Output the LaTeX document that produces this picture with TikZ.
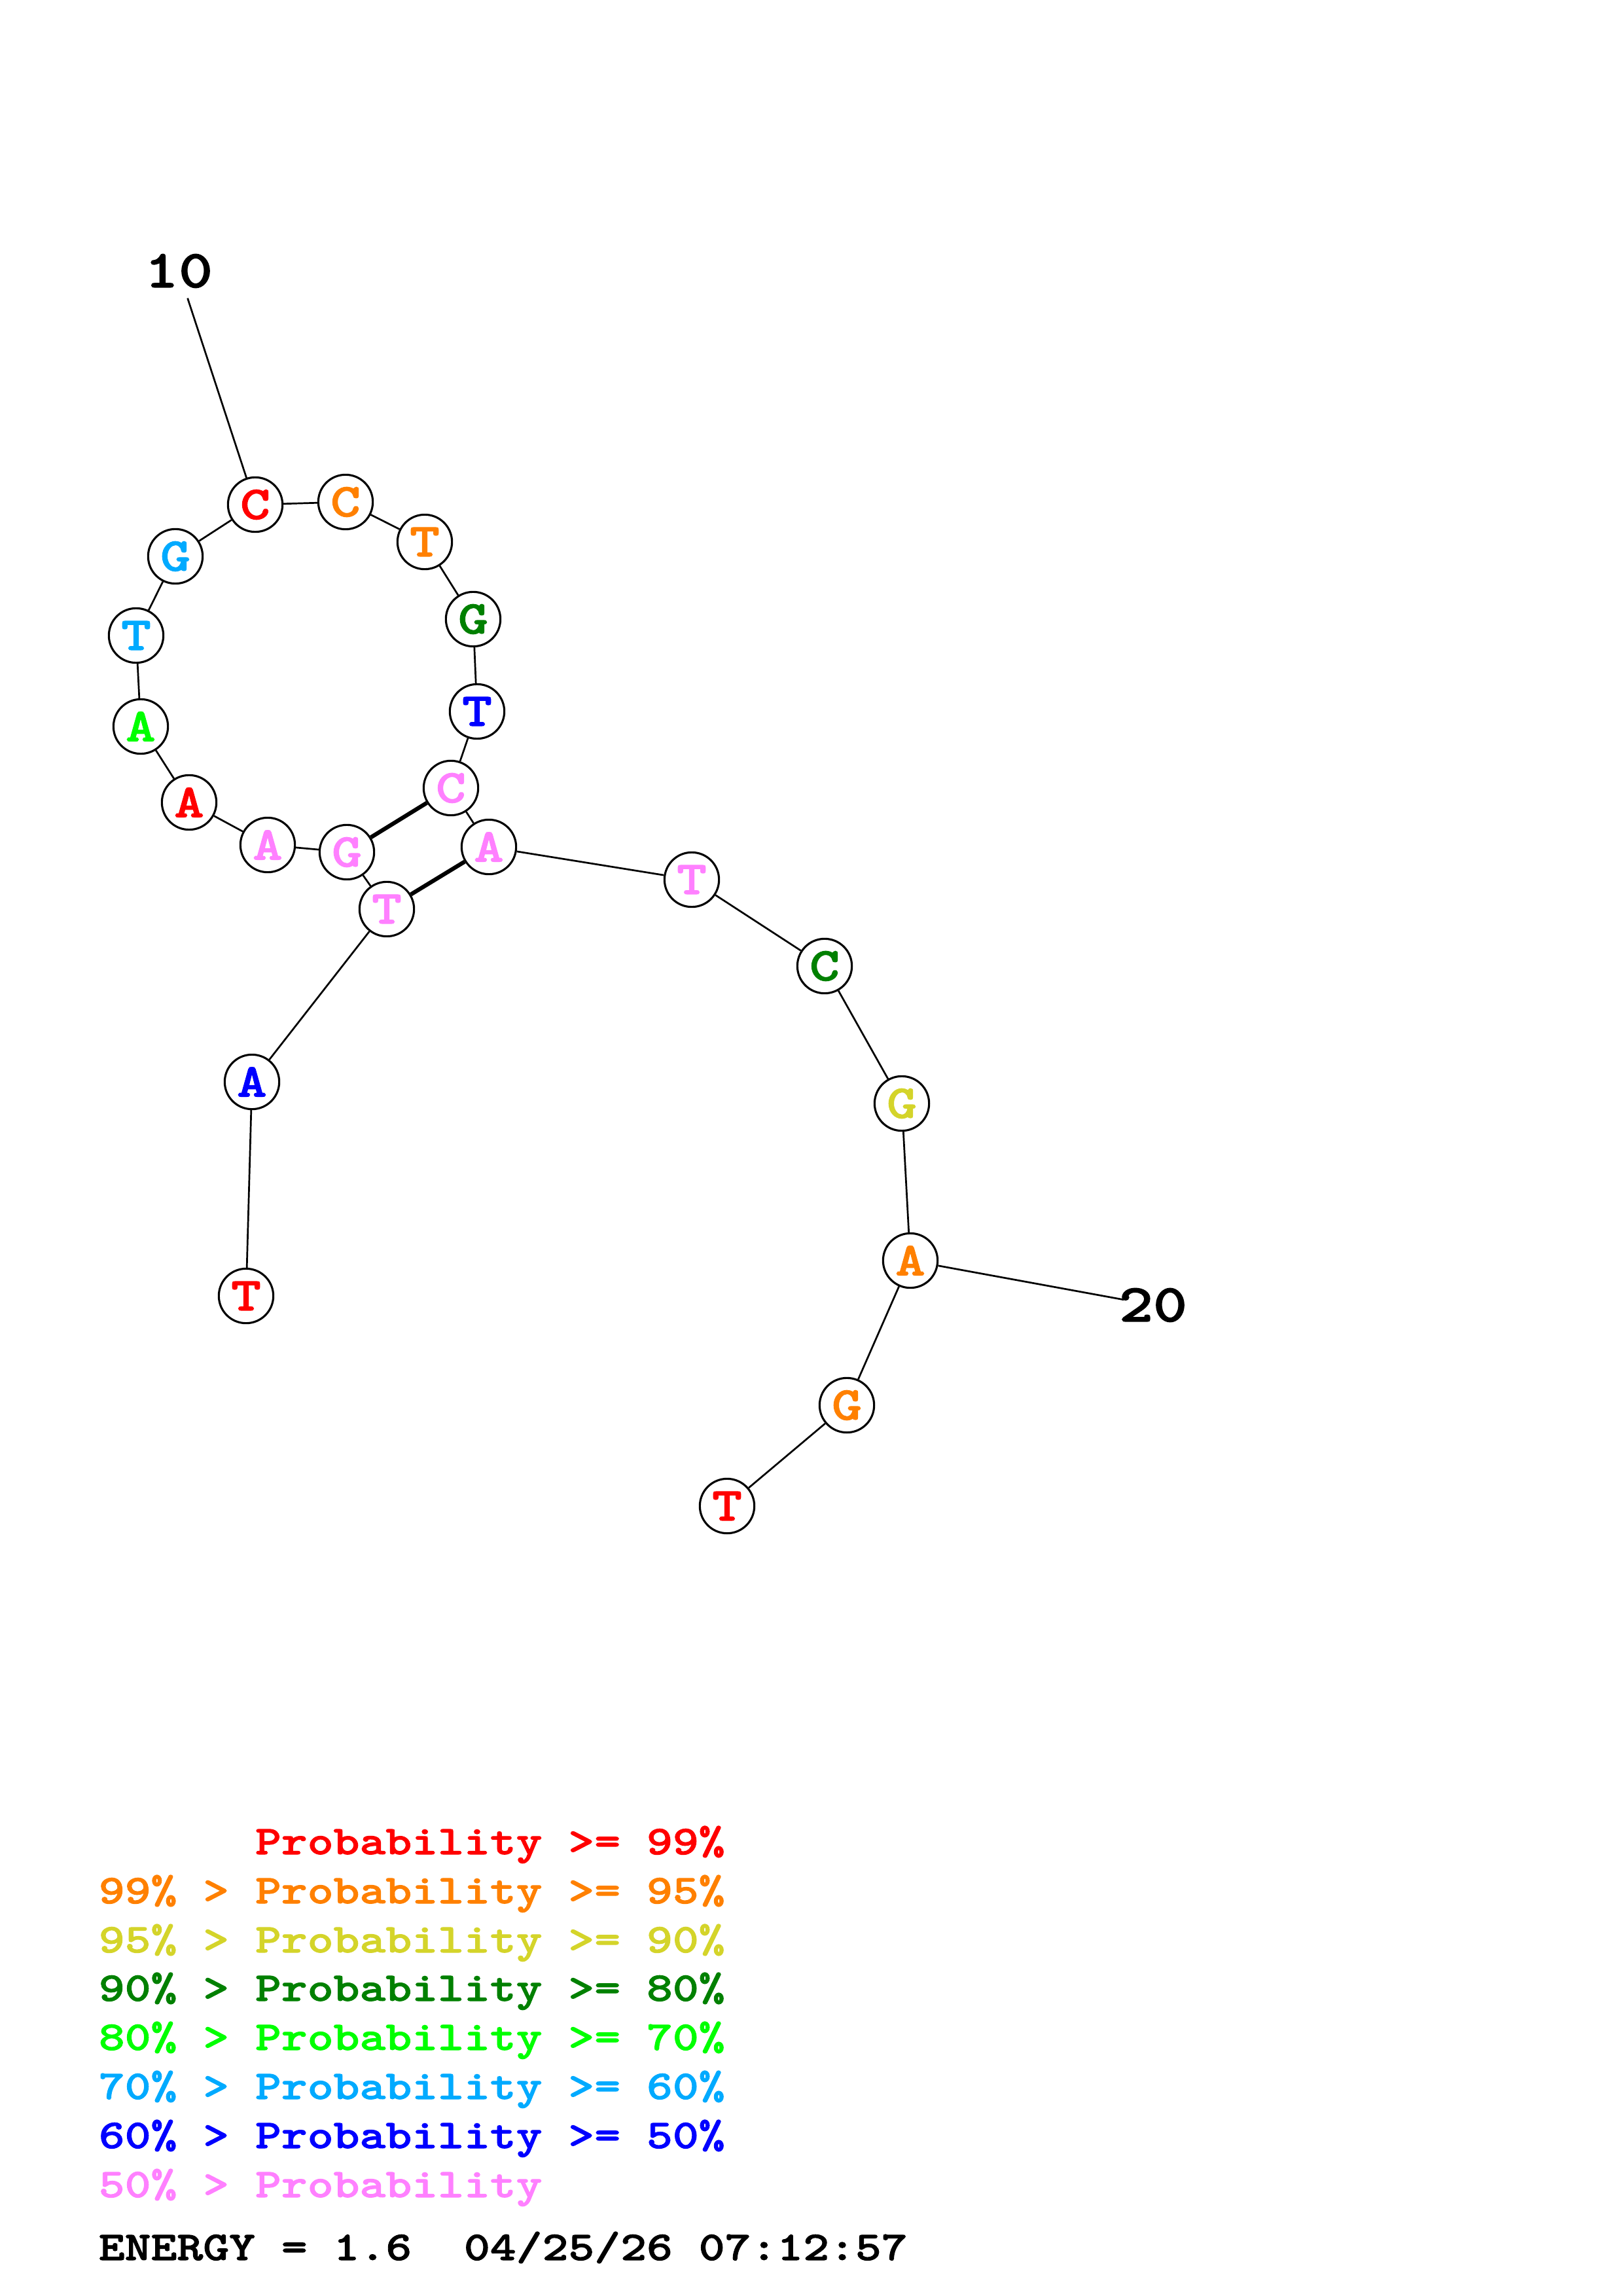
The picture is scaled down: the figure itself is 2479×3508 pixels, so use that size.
\documentclass[tikz,border=0pt]{standalone}
\usepackage{fontspec}
\newfontfamily\courb{lmmonolt10-bold}[Extension=.otf,FakeStretch=1.215,FakeBold=1.5]
\definecolor{pred}{RGB}{255,0,0}
\definecolor{porange}{RGB}{255,128,0}
\definecolor{pyellow}{RGB}{212,212,42}
\definecolor{pdkgreen}{RGB}{0,128,0}
\definecolor{pgreen}{RGB}{0,255,0}
\definecolor{pltblue}{RGB}{0,170,255}
\definecolor{pblue}{RGB}{0,0,255}
\definecolor{ppink}{RGB}{255,128,255}
\begin{document}
\begin{tikzpicture}[x=0.24pt,y=-0.24pt]
  \tikzstyle{base}=[circle,draw,fill=white,line width=0.75pt,minimum size=20pt,inner sep=0pt,
    font=\fontsize{17.3}{20}\courb]
  \tikzstyle{numlabel}=[inner sep=0pt,font=\fontsize{19.6}{22}\courb]
  \tikzstyle{legend}=[anchor=base west,inner sep=0pt,font=\fontsize{15}{18}\courb]
  \tikzstyle{bond}=[line width=0.65pt]
  \tikzstyle{pair}=[line width=1.5pt]
  \useasboundingbox (0,0) rectangle (2479,3508);
  % bases
  \node[base,text=pred]     (n1)  at (376,1980) {T};
  \node[base,text=pblue]    (n2)  at (385,1653) {A};
  \node[base,text=ppink]    (n3)  at (591,1389) {T};
  \node[base,text=ppink]    (n4)  at (530,1302) {G};
  \node[base,text=ppink]    (n5)  at (409,1291) {A};
  \node[base,text=pred]     (n6)  at (289,1226) {A};
  \node[base,text=pgreen]   (n7)  at (215,1110) {A};
  \node[base,text=pltblue]  (n8)  at (208,971)  {T};
  \node[base,text=pltblue]  (n9)  at (268,850)  {G};
  \node[base,text=pred]     (n10) at (390,771)  {C};
  \node[base,text=porange]  (n11) at (528,767)  {C};
  \node[base,text=porange]  (n12) at (649,828)  {T};
  \node[base,text=pdkgreen] (n13) at (723,946)  {G};
  \node[base,text=pblue]    (n14) at (729,1087) {T};
  \node[base,text=ppink]    (n15) at (689,1204) {C};
  \node[base,text=ppink]    (n16) at (747,1294) {A};
  \node[base,text=ppink]    (n17) at (1057,1344) {T};
  \node[base,text=pdkgreen] (n18) at (1260,1476) {C};
  \node[base,text=pyellow]  (n19) at (1378,1686) {G};
  \node[base,text=porange]  (n20) at (1391,1926) {A};
  \node[base,text=porange]  (n21) at (1294,2147) {G};
  \node[base,text=pred]     (n22) at (1111,2301) {T};
  % numbering
  \node[numlabel] (l10) at (273,414)  {10};
  \node[numlabel] (l20) at (1762,1994) {20};
  % backbone
  \draw[bond] (n1) -- (n2) -- (n3) -- (n4) -- (n5) -- (n6) -- (n7) -- (n8) -- (n9) -- (n10)
    -- (n11) -- (n12) -- (n13) -- (n14) -- (n15) -- (n16) -- (n17) -- (n18) -- (n19) -- (n20)
    -- (n21) -- (n22);
  \draw[bond,shorten >=10.5pt] (n10) -- (l10.center);
  \draw[bond,shorten >=11pt] (n20) -- (l20.center);
  % pairs
  \draw[pair] (n4) -- (n15);
  \draw[pair] (n3) -- (n16);
  % legend
  \node[legend,text=pred]     (k1) at (150,2833) {\phantom{99\% > }Probability >= 99\%};
  \node[legend,text=porange]  (k2) at (150,2908) {99\% > Probability >= 95\%};
  \node[legend,text=pyellow]  (k3) at (150,2983) {95\% > Probability >= 90\%};
  \node[legend,text=pdkgreen] (k4) at (150,3057) {90\% > Probability >= 80\%};
  \node[legend,text=pgreen]   (k5) at (150,3132) {80\% > Probability >= 70\%};
  \node[legend,text=pltblue]  (k6) at (150,3207) {70\% > Probability >= 60\%};
  \node[legend,text=pblue]    (k7) at (150,3282) {60\% > Probability >= 50\%};
  \node[legend,text=ppink]    (k8) at (150,3357) {50\% > Probability};
  \node[legend]               (en) at (150,3453) {ENERGY = 1.6\ \ 04/25/26 07:12:57};
\end{tikzpicture}
\end{document}
